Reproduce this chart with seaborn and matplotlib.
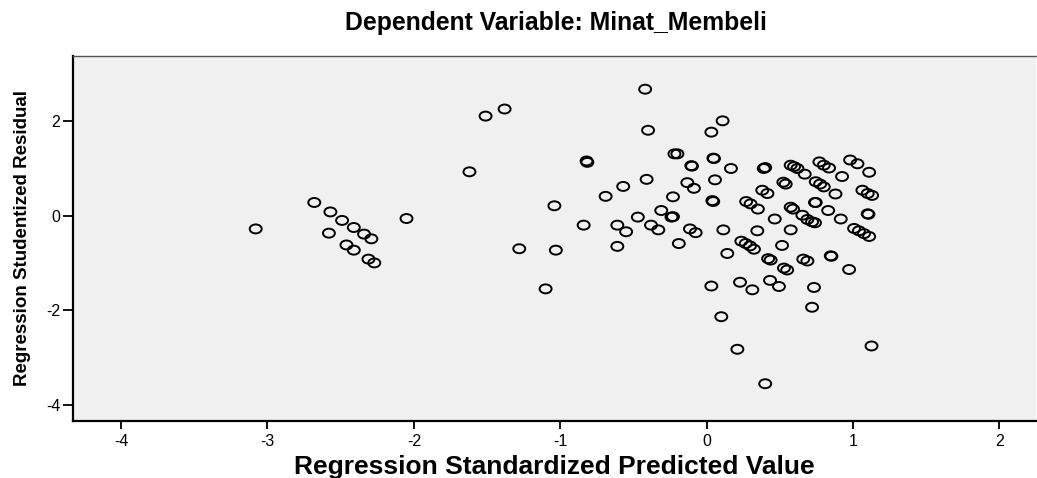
import numpy as np
import pandas as pd
import matplotlib
matplotlib.use('Agg')
import matplotlib.pyplot as plt
from matplotlib.path import Path
from matplotlib.transforms import Affine2D
import seaborn as sns

# values
pred = [
    -3.08, -2.68, -2.57, -2.49, -2.41, -2.34, -2.29, -2.58, -2.46, -2.41,
    -2.31, -2.27, -2.05,
    -1.62, -1.51, -1.38, -1.28, -1.10, -1.04, -1.03, -0.84, -0.82, -0.815,
    -0.69, -0.61, -0.61, -0.57, -0.55, -0.47, -0.42, -0.41, -0.40, -0.38,
    -0.33, -0.31, -0.24, -0.23, -0.23, -0.22, -0.20, -0.19, -0.132, -0.114,
    -0.105, -0.10, -0.087, -0.075,
    0.032, 0.032, 0.039, 0.045, 0.046, 0.05, 0.057, 0.10, 0.109, 0.114,
    0.141, 0.166, 0.21, 0.228, 0.237, 0.267, 0.27, 0.296, 0.30, 0.312,
    0.323, 0.346, 0.35, 0.38, 0.39, 0.40, 0.40, 0.415, 0.42, 0.433,
    0.437, 0.465, 0.494, 0.515, 0.524, 0.54, 0.528, 0.55, 0.574, 0.574,
    0.574, 0.59, 0.597, 0.62, 0.654, 0.66, 0.67, 0.688, 0.688, 0.72,
    0.72, 0.733, 0.74, 0.74, 0.745, 0.745, 0.77, 0.775, 0.80, 0.80,
    0.83, 0.836, 0.848, 0.852, 0.88, 0.916, 0.925, 0.973, 0.98, 1.007,
    1.03, 1.04, 1.064, 1.075, 1.10, 1.10, 1.105, 1.11, 1.11, 1.126,
    1.13,
]
resid = [
    -0.28, 0.28, 0.08, -0.10, -0.25, -0.39, -0.49, -0.37, -0.62, -0.73,
    -0.92, -1.00, -0.06,
    0.93, 2.11, 2.26, -0.70, -1.55, 0.21, -0.73, -0.20, 1.16, 1.13,
    0.41, -0.20, -0.65, 0.62, -0.34, -0.03, 2.68, 0.77, 1.81, -0.20,
    -0.30, 0.11, -0.03, -0.02, 0.40, 1.31, 1.31, -0.59, 0.70, -0.28,
    1.06, 1.05, 0.58, -0.36,
    1.77, -1.49, 0.32, 0.30, 1.22, 1.21, 0.76, -2.14, 2.01, -0.30,
    -0.80, 1.00, -2.83, -1.41, -0.54, -0.59, 0.30, -0.64, 0.25, -1.57,
    -0.71, -0.32, 0.14, 0.54, 1.00, 1.02, -3.56, 0.47, -0.91, -1.37,
    -0.94, -0.07, -1.50, -0.63, 0.71, 0.67, -1.11, -1.15, 1.07, 0.18,
    -0.30, 0.14, 1.04, 1.00, 0.01, -0.92, 0.88, -0.08, -0.96, -0.13,
    -1.94, -1.52, -0.15, 0.28, 0.28, 0.72, 1.14, 0.67, 1.07, 0.61,
    0.11, 1.01, -0.85, -0.86, 0.46, -0.07, 0.83, -1.14, 1.18, -0.27,
    1.10, -0.32, 0.54, -0.38, 0.47, 0.04, 0.03, 0.92, -0.44, -2.76,
    0.43,
]

title = 'Dependent Variable: Minat_Membeli'
x_label = 'Regression Standardized Predicted Value'
y_label = 'Regression Studentized Residual'
x_ticks = [-4, -3, -2, -1, 0, 1, 2]
y_ticks = [-4, -2, 0, 2]

df = pd.DataFrame({'pred': pred, 'resid': resid})

sns.set_theme(style='white')
plt.rcParams['font.family'] = ['Liberation Sans', 'DejaVu Sans']
plt.rcParams['axes.unicode_minus'] = False  # SPSS prints a plain hyphen

# SPSS circles come out a little squashed, so use an ellipse marker
ring = Path.unit_circle().transformed(Affine2D().scale(1.0, 0.75))

fig = plt.figure(figsize=(10.37, 4.78), dpi=100)
ax = fig.add_axes([0.0701, 0.1192, 0.929, 0.7643])
ax.set_facecolor('#f0f0f0')

sns.scatterplot(data=df, x='pred', y='resid', marker=ring, s=74,
                edgecolor='black', linewidth=1.4, ax=ax, legend=False)
ax.collections[0].set_facecolor('none')

ax.set_xlim(-4.33, 2.25)
ax.set_ylim(-4.35, 3.39)
ax.set_xticks(x_ticks)
ax.set_yticks(y_ticks)

ax.tick_params(axis='both', bottom=True, left=True, direction='out',
               width=1.3, color='black', labelsize=11.5, labelcolor='black')
ax.tick_params(axis='x', length=6, pad=3)
ax.tick_params(axis='y', length=7, pad=2)

for side in ['left', 'bottom']:
    ax.spines[side].set_color('black')
    ax.spines[side].set_linewidth(1.6)
ax.spines['top'].set_color('#555555')
ax.spines['top'].set_linewidth(1.0)
ax.spines['right'].set_visible(False)

ax.set_xlabel(x_label, fontsize=19, fontweight='bold', color='black')
ax.set_ylabel(y_label, fontsize=13.5, fontweight='bold', color='black')
ax.xaxis.label.set_va('center')
ax.yaxis.label.set_va('center')
ax.xaxis.set_label_coords(0.5, -0.125)
ax.yaxis.set_label_coords(-0.0526, 0.5)

fig.text(0.536, 1 - 23 / 478, title, ha='center', va='center',
         fontsize=17.8, fontweight='bold', color='black')

fig.savefig('out.png', dpi=100)
plt.close(fig)
